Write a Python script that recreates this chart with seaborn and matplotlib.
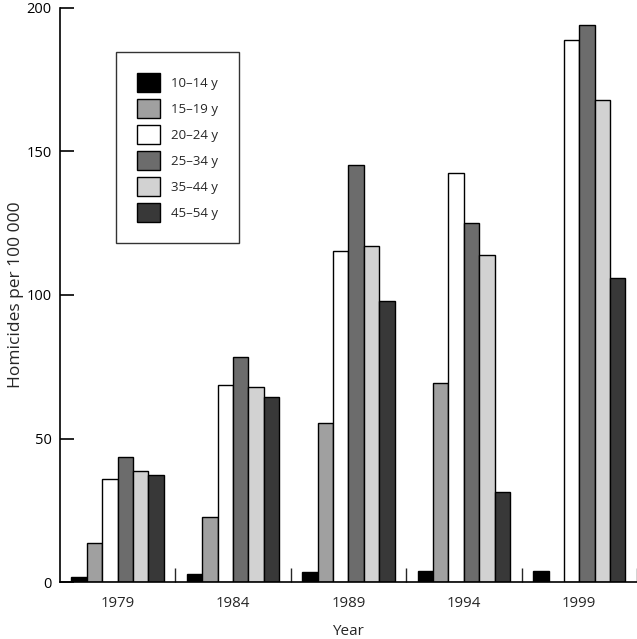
import numpy as np
import pandas as pd
import matplotlib
matplotlib.use('Agg')
import matplotlib.pyplot as plt
import seaborn as sns

# values
years = ['1979', '1984', '1989', '1994', '1999']
age_groups = ['10–14 y', '15–19 y', '20–24 y', '25–34 y', '35–44 y', '45–54 y']
age_10_14 = [1.7, 2.7, 3.6, 3.9, 3.9]
age_15_19 = [13.5, 22.7, 55.4, 69.4, np.nan]
age_20_24 = [35.8, 68.7, 115.3, 142.4, 188.8]
age_25_34 = [43.7, 78.4, 145.3, 125.1, 193.9]
age_35_44 = [38.6, 67.9, 117.1, 113.8, 167.8]
age_45_54 = [37.2, 64.5, 97.8, 31.4, 105.9]
colors = ['#000000', '#a0a0a0', '#ffffff', '#6c6c6c', '#d2d2d2', '#383838']

df = pd.DataFrame({'Year': years,
                   age_groups[0]: age_10_14, age_groups[1]: age_15_19,
                   age_groups[2]: age_20_24, age_groups[3]: age_25_34,
                   age_groups[4]: age_35_44, age_groups[5]: age_45_54})
df = df.melt(id_vars='Year', var_name='Age', value_name='Rate')

sns.set_style('white')
plt.rcParams['font.family'] = ['Open Sans', 'DejaVu Sans']

fig = plt.figure(figsize=(6.37, 6.39), dpi=100)
ax = fig.add_axes([0.094, 0.089, 0.906, 0.899])

sns.barplot(data=df, x='Year', y='Rate', hue='Age', order=years,
            hue_order=age_groups, palette=colors, errorbar=None,
            edgecolor='black', linewidth=1.0, width=0.8, ax=ax)

ax.set_ylim(0, 200)
ax.set_xlim(-0.5, 4.5)
ax.set_yticks([0, 50, 100, 150, 200])
ax.tick_params(axis='y', direction='in', length=10, width=1.2, labelsize=10.5,
               pad=6, colors='black', left=True)
ax.tick_params(axis='x', length=0, labelsize=10.8, pad=10)
ax.set_xticks(np.arange(0.5, 5, 1), minor=True)
ax.tick_params(axis='x', which='minor', direction='in', length=10, width=1.0,
               bottom=True)

for s in ['top', 'right']:
    ax.spines[s].set_visible(False)
for s in ['left', 'bottom']:
    ax.spines[s].set_color('black')
    ax.spines[s].set_linewidth(1.2)

ax.set_xlabel('Year', fontsize=11, labelpad=9)
ax.set_ylabel('Homicides per 100 000', fontsize=12.5, labelpad=2)

leg = ax.legend(loc='upper left', bbox_to_anchor=(0.097, 0.923), frameon=True,
                fancybox=False, edgecolor='black', fontsize=9.5,
                handlelength=1.75, handleheight=1.78, labelspacing=0.57,
                borderpad=1.6, handletextpad=0.85, borderaxespad=0)
leg.get_frame().set_linewidth(1.0)
leg.set_title(None)

fig.savefig('out.png', dpi=100)
